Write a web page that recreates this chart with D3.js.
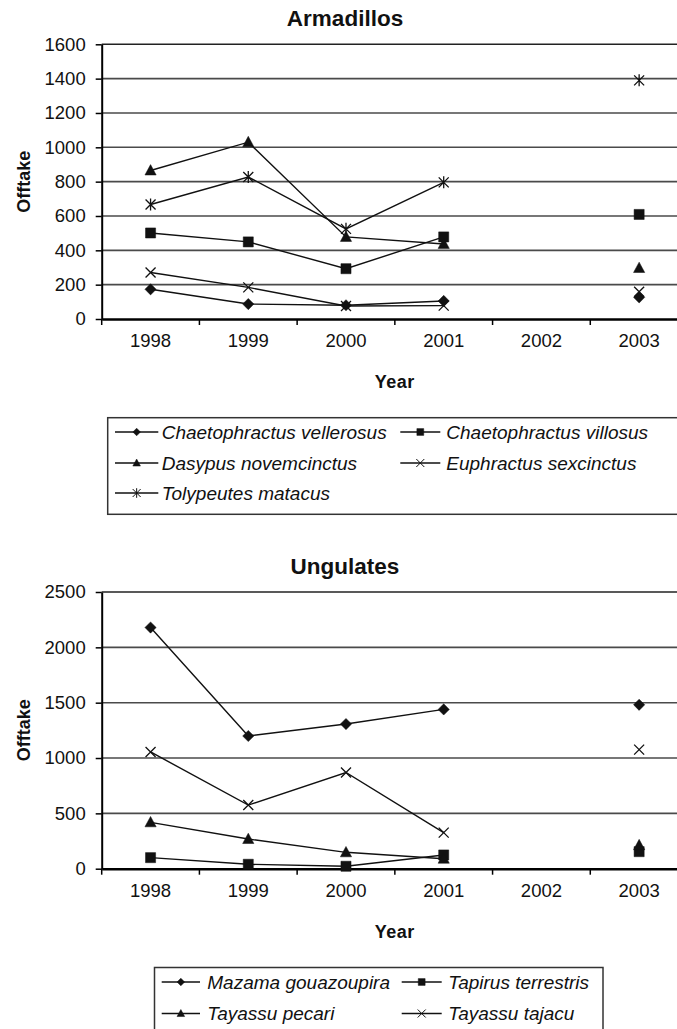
<!DOCTYPE html>
<html>
<head>
<meta charset="utf-8">
<script src="https://cdn.jsdelivr.net/npm/d3@7"></script>
<style>
  body { margin: 0; background: #fff; }
  text { font-family: "Liberation Sans", Arial, sans-serif; fill: #111; }
</style>
</head>
<body>
<svg id="chart" width="677" height="1029"></svg>
<script>
// years on the x axis (2002 has no data)
const years = ['1998', '1999', '2000', '2001', '2002', '2003'];

// Armadillos offtake
const armadilloNames = ['Chaetophractus vellerosus', 'Chaetophractus villosus', 'Dasypus novemcinctus',
    'Euphractus sexcinctus', 'Tolypeutes matacus'];
const vellerosus = [173, 87, 80, 105, null, 126];
const villosus = [501, 449, 293, 478, null, 609];
const novemcinctus = [865, 1030, 478, 437, null, 297];
const sexcinctus = [271, 184, 76, 78, null, 159];
const matacus = [667, 827, 525, 796, null, 1390];
const armadilloTicks = [0, 200, 400, 600, 800, 1000, 1200, 1400, 1600];

// Ungulates offtake
const ungulateNames = ['Mazama gouazoupira', 'Tapirus terrestris', 'Tayassu pecari', 'Tayassu tajacu'];
const gouazoupira = [2179, 1199, 1307, 1439, null, 1481];
const terrestris = [100, 40, 22, 124, null, 154];
const pecari = [419, 268, 148, 90, null, 212];
const tajacu = [1055, 575, 869, 326, null, 1076];
const ungulateTicks = [0, 500, 1000, 1500, 2000, 2500];

// marker shapes, drawn with d3.symbol custom types (size = half width)
const shapes = {
    diamond: {draw(c, r) { c.moveTo(0, -r); c.lineTo(r, 0); c.lineTo(0, r); c.lineTo(-r, 0); c.closePath(); }},
    square: {draw(c, r) { c.rect(-r * 0.9, -r * 0.9, r * 1.8, r * 1.8); }},
    triangle: {draw(c, r) { c.moveTo(0, -r * 1.05); c.lineTo(r, r * 0.8); c.lineTo(-r, r * 0.8); c.closePath(); }},
    cross: {draw(c, r) { c.moveTo(-r, -r); c.lineTo(r, r); c.moveTo(r, -r); c.lineTo(-r, r); }},
    star: {draw(c, r) { c.moveTo(-r, -r); c.lineTo(r, r); c.moveTo(r, -r); c.lineTo(-r, r);
        c.moveTo(0, -r * 1.2); c.lineTo(0, r * 1.2); }}
};
const filled = {diamond: true, square: true, triangle: true, cross: false, star: false};

const svg = d3.select('#chart');

function drawChart(cfg) {
    const x = d3.scaleBand().domain(years).range([101.7, 688]).padding(0);
    const y = d3.scaleLinear().domain([0, cfg.ticks[cfg.ticks.length - 1]]).range([cfg.bottom, cfg.top]);
    const g = svg.append('g');

    // gridlines
    g.selectAll('.grid')
        .data(cfg.ticks.filter(t => t > 0))
        .join('line')
        .attr('x1', x.range()[0]).attr('x2', x.range()[1])
        .attr('y1', d => y(d)).attr('y2', d => y(d))
        .attr('stroke', d => d === cfg.ticks[cfg.ticks.length - 1] ? '#222' : '#4a4a4a')
        .attr('stroke-width', 1.6);

    // y axis
    const yAxis = g.append('g')
        .attr('transform', `translate(${x.range()[0]},0)`)
        .call(d3.axisLeft(y).tickValues(cfg.ticks).tickFormat(d3.format('d'))
            .tickSize(6).tickPadding(10).tickSizeOuter(0));
    yAxis.select('.domain').attr('stroke', '#000').attr('stroke-width', 2);
    yAxis.selectAll('.tick line').attr('stroke', '#000').attr('stroke-width', 1.5);
    yAxis.selectAll('.tick text').attr('font-size', 18.5).attr('font-family', '"Liberation Sans", Arial, sans-serif')
        .attr('fill', '#111');

    // x axis: labels centred in bands, tick marks on band edges
    const xAxis = g.append('g')
        .attr('transform', `translate(0,${cfg.bottom})`)
        .call(d3.axisBottom(x).tickSize(0).tickPadding(15).tickSizeOuter(0));
    xAxis.select('.domain').attr('stroke', '#000').attr('stroke-width', 2.4);
    xAxis.selectAll('.tick text').attr('font-size', 18.5).attr('font-family', '"Liberation Sans", Arial, sans-serif')
        .attr('fill', '#111');
    g.selectAll('.xtick')
        .data(years)
        .join('line')
        .attr('x1', d => x(d)).attr('x2', d => x(d))
        .attr('y1', cfg.bottom).attr('y2', cfg.bottom + 6)
        .attr('stroke', '#000').attr('stroke-width', 1.5);

    // titles
    g.append('text')
        .attr('x', 345).attr('y', cfg.top - 18)
        .attr('text-anchor', 'middle').attr('font-size', 22.5).attr('font-weight', 'bold')
        .text(cfg.title);
    g.append('text')
        .attr('x', (x.range()[0] + x.range()[1]) / 2).attr('y', cfg.bottom + 69)
        .attr('text-anchor', 'middle').attr('font-size', 18).attr('font-weight', 'bold')
        .attr('letter-spacing', 0.5)
        .text('Year');
    g.append('text')
        .attr('transform', `translate(30,${(cfg.top + cfg.bottom) / 2}) rotate(-90)`)
        .attr('text-anchor', 'middle').attr('font-size', 18).attr('font-weight', 'bold')
        .text('Offtake');

    // series lines and markers
    const line = d3.line()
        .defined(d => d.v !== null)
        .x(d => x(d.year) + x.bandwidth() / 2)
        .y(d => y(d.v));

    cfg.series.forEach(s => {
        const pts = years.map((yr, i) => ({year: yr, v: s.values[i]}));
        g.append('path')
            .datum(pts)
            .attr('d', line)
            .attr('fill', 'none').attr('stroke', '#111').attr('stroke-width', 1.4);
        g.selectAll(null)
            .data(pts.filter(d => d.v !== null))
            .join('path')
            .attr('transform', d => `translate(${x(d.year) + x.bandwidth() / 2},${y(d.v)})`)
            .attr('d', d3.symbol().type(shapes[s.shape]).size(s.shape === 'cross' || s.shape === 'star' ? 5 : 5.6))
            .attr('fill', filled[s.shape] ? '#111' : 'none')
            .attr('stroke', '#111').attr('stroke-width', filled[s.shape] ? 0.5 : 1.3);
    });

    // legend
    const lg = cfg.legend;
    svg.append('rect')
        .attr('x', lg.x).attr('y', lg.y).attr('width', lg.w).attr('height', lg.h)
        .attr('fill', 'none').attr('stroke', '#333').attr('stroke-width', 1.5);
    cfg.series.forEach((s, i) => {
        const col = i % 2, row = Math.floor(i / 2);
        const c = lg.cols[col];
        const cy = lg.rows[row];
        const item = svg.append('g');
        item.append('line')
            .attr('x1', c.x1).attr('x2', c.x2).attr('y1', cy).attr('y2', cy)
            .attr('stroke', '#111').attr('stroke-width', 1.3);
        item.append('path')
            .attr('transform', `translate(${(c.x1 + c.x2) / 2},${cy})`)
            .attr('d', d3.symbol().type(shapes[s.shape]).size(s.shape === 'cross' || s.shape === 'star' ? 4 : 3.8))
            .attr('fill', filled[s.shape] ? '#111' : 'none')
            .attr('stroke', '#111').attr('stroke-width', filled[s.shape] ? 0.5 : 1);
        item.append('text')
            .attr('x', c.tx).attr('y', cy + 6.5)
            .attr('font-size', 19).attr('font-style', 'italic')
            .text(s.name);
    });
}

drawChart({
    title: 'Armadillos',
    top: 44.3, bottom: 319,
    ticks: armadilloTicks,
    series: [
        {name: armadilloNames[0], values: vellerosus, shape: 'diamond'},
        {name: armadilloNames[1], values: villosus, shape: 'square'},
        {name: armadilloNames[2], values: novemcinctus, shape: 'triangle'},
        {name: armadilloNames[3], values: sexcinctus, shape: 'cross'},
        {name: armadilloNames[4], values: matacus, shape: 'star'}
    ],
    legend: {
        x: 107.7, y: 417.7, w: 600, h: 96.6,
        rows: [432, 463, 493],
        cols: [{x1: 115, x2: 158.3, tx: 161.7}, {x1: 400.3, x2: 440.3, tx: 446.3}]
    }
});

drawChart({
    title: 'Ungulates',
    top: 592, bottom: 868.7,
    ticks: ungulateTicks,
    series: [
        {name: ungulateNames[0], values: gouazoupira, shape: 'diamond'},
        {name: ungulateNames[1], values: terrestris, shape: 'square'},
        {name: ungulateNames[2], values: pecari, shape: 'triangle'},
        {name: ungulateNames[3], values: tajacu, shape: 'cross'}
    ],
    legend: {
        x: 154.5, y: 967.5, w: 448.5, h: 80,
        rows: [982, 1013.5],
        cols: [{x1: 161.7, x2: 200, tx: 207.3}, {x1: 401.7, x2: 441.7, tx: 448.3}]
    }
});
</script>
</body>
</html>
